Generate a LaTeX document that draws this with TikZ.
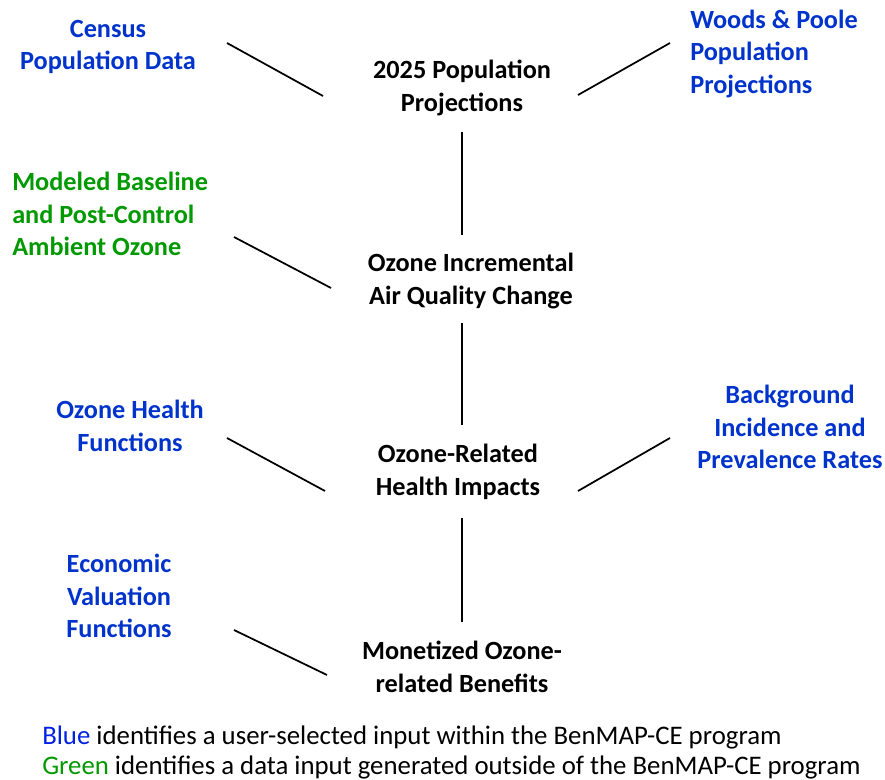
\documentclass[tikz,border=0pt]{standalone}
\usepackage{fontspec}
\setmainfont{Carlito}
\definecolor{inblue}{RGB}{0,51,204}
\definecolor{ingreen}{RGB}{0,153,0}
\definecolor{keyblue}{RGB}{0,32,230}

\begin{document}
\begin{tikzpicture}[x=0.75pt, y=-0.75pt,
  lbl/.style={font=\fontsize{19.7}{24.4}\selectfont\bfseries, align=center, inner sep=0pt},
  link/.style={line width=1.3pt, black}]
  \useasboundingbox (0,0) rectangle (885,780);

  % central chain
  \node[lbl] (proj)   at (462,88)  {2025 Population\\Projections};
  \node[lbl] (aq)     at (471,281) {Ozone Incremental\\Air Quality Change};
  \node[lbl] (impact) at (458,472) {Ozone-Related\\Health Impacts};
  \node[lbl] (value)  at (462,667) {Monetized Ozone-\\related Benefits};

  % inputs
  \node[lbl, inblue] (census) at (108,47) {Census\\Population Data};
  \node[lbl, inblue, align=left, anchor=west] (woods) at (690,54) {Woods \& Poole\\Population\\Projections};
  \node[lbl, ingreen, align=left, anchor=west] (model) at (12,214) {Modeled Baseline\\and Post-Control\\Ambient Ozone};
  \node[lbl, inblue] (hfun)  at (130,426) {Ozone Health\\Functions};
  \node[lbl, inblue] (incid) at (790,427) {Background\\Incidence and\\Prevalence Rates};
  \node[lbl, inblue] (econ)  at (119,596) {Economic\\Valuation\\Functions};

  % links
  \draw[link] ([shift={(119,-4)}]census.center) -- ([shift={(-139,8)}]proj.center);
  \draw[link] ([shift={(116,7)}]proj.center) -- ([shift={(-20,-11)}]woods.west);
  \draw[link] ([shift={(0,44)}]proj.center) -- ([shift={(-9,-46)}]aq.center);
  \draw[link] ([shift={(222,23)}]model.west) -- ([shift={(-140,7)}]aq.center);
  \draw[link] ([shift={(-9,42)}]aq.center) -- ([shift={(4,-47)}]impact.center);
  \draw[link] ([shift={(97,12)}]hfun.center) -- ([shift={(-133,19)}]impact.center);
  \draw[link] ([shift={(120,19)}]impact.center) -- ([shift={(-120,11)}]incid.center);
  \draw[link] ([shift={(4,46)}]impact.center) -- ([shift={(0,-45)}]value.center);
  \draw[link] ([shift={(115,34)}]econ.center) -- ([shift={(-135,8)}]value.center);

  % key
  \node[font=\fontsize{20.1}{22.5}\selectfont, align=left, anchor=west, inner sep=0pt] (key) at (42,752)
    {\textcolor{keyblue}{Blue} identifies a user-selected input within the BenMAP-CE program\\
     \textcolor{ingreen}{Green} identifies a data input generated outside of the BenMAP-CE program};
\end{tikzpicture}
\end{document}
